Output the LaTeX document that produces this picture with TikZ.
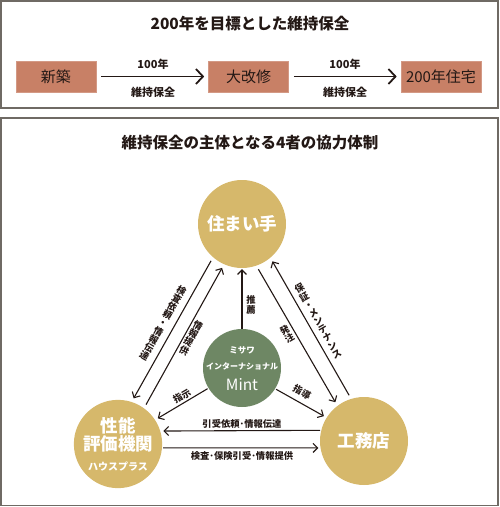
\documentclass[tikz,border=0pt]{standalone}
\usepackage{fontspec}
\setmainfont{Noto Sans CJK JP}
\usetikzlibrary{arrows.meta,calc}
\definecolor{gold}{HTML}{D6B86B}
\definecolor{mintgreen}{HTML}{6E8764}
\definecolor{terra}{HTML}{C88066}
\definecolor{framegray}{HTML}{6F6A64}
\definecolor{ink}{HTML}{231815}
\begin{document}
\begin{tikzpicture}[x=1pt,y=-1pt,
  frame/.style={draw=framegray,line width=1.5pt},
  stagebox/.style={fill=terra,draw=terra!80!white,line width=0.6pt,minimum width=80pt,minimum height=31pt,inner sep=0pt,text=ink,font=\fontsize{15}{17}\selectfont},
  bigarrow/.style={draw=ink,line width=1.8pt,-{Straight Barb[length=7pt,width=15pt,line width=1.8pt]}},
  titletext/.style={font=\fontsize{15.5}{17}\selectfont\bfseries,text=ink},
  smalllabel/.style={font=\fontsize{11}{13}\selectfont\bfseries,text=ink,inner sep=0pt},
  actor/.style={circle,fill=gold,minimum size=88pt,inner sep=0pt,text=white,align=center,font=\fontsize{17.5}{21}\selectfont\bfseries},
  mintc/.style={circle,fill=mintgreen,minimum size=78pt,inner sep=0pt,text=white,align=center},
  link/.style={draw=ink,line width=1.1pt,-{Straight Barb[length=4.5pt,width=9pt,line width=1.1pt]},shorten >=4pt,shorten <=4pt},
  lbl/.style={font=\fontsize{9.3}{9.4}\selectfont\bfseries,text=ink,inner sep=0pt,align=center}
]
\useasboundingbox (0,0) rectangle (500,507);
% frames
\draw[frame] (1,1) rectangle (498,108);
\draw[frame] (1,118) rectangle (498,505.5);

% top panel
\node[titletext] (title1) at (250,24) {200年を目標とした維持保全};
\node[stagebox] (new) at (56,76.5) {新築};
\node[stagebox] (reno) at (248.5,76.5) {大改修};
\node[stagebox] (house) at (441,76.5) {200年住宅};
\draw[bigarrow,shorten <=5pt,shorten >=4pt] (new.east) -- (reno.west);
\draw[bigarrow,shorten <=5pt,shorten >=4pt] (reno.east) -- (house.west);
\node[smalllabel] (y1) at (153,64) {100年};
\node[smalllabel] (m1) at (153,92) {維持保全};
\node[smalllabel] (y2) at (345,64) {100年};
\node[smalllabel] (m2) at (345,92) {維持保全};

% bottom panel
\node[titletext] (title2) at (250,143) {維持保全の主体となる4者の協力体制};

\node[actor] (T) at (242,224) {住まい手};
\node[actor] (L) at (118,444) {性能\\[-3pt]評価機関\\[-1pt]{\fontsize{10}{12}\selectfont ハウスプラス}};
\node[actor] (R) at (364,441) {工務店};
\node[mintc] (M) at (242,368) {};
\node[text=white,font=\fontsize{8.5}{10}\selectfont\bfseries,inner sep=0pt] (m1t) at (242,350) {ミサワ};
\node[text=white,font=\fontsize{8}{10}\selectfont\bfseries,inner sep=0pt] (m2t) at (242,366) {インターナショナル};
\node[text=white,font=\fontsize{15.5}{17}\selectfont,inner sep=0pt] (m3t) at (242,385) {Mint};

% left pair
\draw[link] (T.229) -- (L.72.6);
\draw[link] (L.54.7) -- (T.246);
% right pair
\draw[link] (T.289.6) -- (R.127.3);
\draw[link] (R.107.7) -- (T.310);
% Mint links
\draw[link,shorten <=0pt,shorten >=1pt] (M.90) -- (T.270);
\draw[link,shorten <=1pt,shorten >=3pt] (M.211) -- (L.33);
\draw[link,shorten <=1pt,shorten >=3pt] (M.328) -- (R.148.4);
% horizontal
\draw[link,shorten <=1pt,shorten >=3pt] (R.166.9) -- (L.17.2);
\draw[link,shorten <=1pt,shorten >=2pt] (L.-5.2) -- (R.189.2);

% labels
\node[lbl,rotate=-29.5] (lb1) at (163,323) {検\\査\\依\\頼\\・\\情\\報\\伝\\達};
\node[lbl,rotate=-29.5] (lb2) at (191,338) {情\\報\\提\\供};
\node[lbl,rotate=29.7] (lb3) at (318,321) {保\\証\\・\\メ\\ン\\テ\\ナ\\ン\\ス};
\node[lbl,rotate=29.7] (lb4) at (287,334) {発\\注};
\node[lbl] (lb5) at (251,305) {推\\薦};
\node[lbl,rotate=30] (lb6) at (182,396) {指示};
\node[lbl,rotate=-29] (lb7) at (302,392) {指導};
\node[lbl] (lb8) at (242,424) {引受依頼･情報伝達};
\node[lbl] (lb9) at (242,456) {検査･保険引受･情報提供};
\end{tikzpicture}
\end{document}
